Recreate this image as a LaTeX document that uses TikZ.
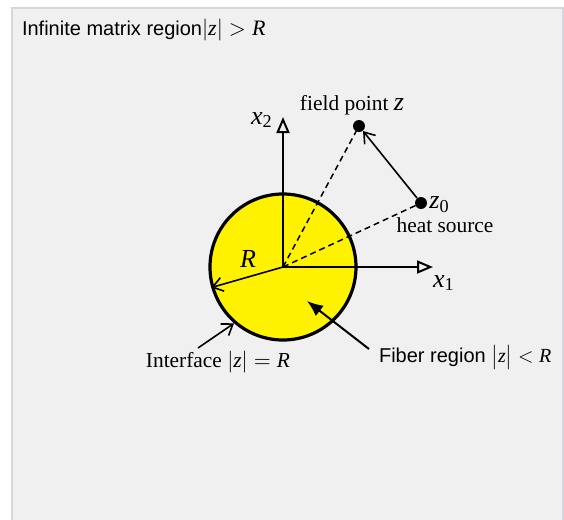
\documentclass[tikz,border=0pt]{standalone}
\usepackage{fontspec}
\setmainfont{Liberation Serif}
\setsansfont{Liberation Sans}
\usetikzlibrary{arrows.meta}
\definecolor{panel}{RGB}{240,240,240}
\definecolor{panelrand}{RGB}{214,214,220}
\newcommand\mi[1]{\mathit{#1}}
\newcommand\betrag[1]{\bigl|\mi{#1}\bigr|}
\newcommand\gross[1]{{\fontsize{13}{14}\selectfont$#1$}}

\begin{document}
\begin{tikzpicture}[x=0.5pt, y=-0.5pt,
  achse/.style={line width=1pt, -{Triangle[open, length=8pt, width=6.5pt]}},
  pfeil/.style={line width=0.8pt, -{Straight Barb[length=5pt, width=7pt]}},
  strich/.style={line width=0.75pt, dash pattern=on 3pt off 2pt},
  punkt/.style={circle, fill=black, inner sep=0pt, minimum size=6pt},
  serif/.style={font=\fontsize{10.7}{12}\selectfont},
  sans/.style={font=\sffamily\fontsize{10}{12}\selectfont}]
\useasboundingbox (0,0) rectangle (564,520);
\fill[white] (0,0) rectangle (564,520);
\draw[panelrand, fill=panel, line width=0.6pt] (12,8) rectangle (563,523);
% fibre and points
\coordinate (O) at (283,267);
\node[circle, draw, line width=1.6pt, fill=yellow, minimum size=73pt, inner sep=0pt] (faser) at (O) {};
\node[punkt] (fp) at (359,126) {};
\node[punkt] (hs) at (421,203) {};
\coordinate (x1end) at (433,267);
\coordinate (x2end) at (283,117);
\coordinate (ia) at (198,348);
\coordinate (fa) at (369,349);
\coordinate (fb) at (307,301);
% labels
\node[sans, anchor=west] (titel) at (15,30) {Infinite matrix region{\fontsize{11}{12}\selectfont$\betrag{z}>\mi{R}$}};
\node[serif] (fptext) at (352,105) {field point \gross{\mi{z}}};
\node[serif, anchor=west, inner sep=1pt] (z0text) at (427,205) {\gross{\mi{z}_{\mathrm{0}}}};
\node[serif] (hstext) at (445,225) {heat source};
\node[serif] (rtext) at (248,259) {\gross{\mi{R}}};
\node[serif] (x2text) at (262,120) {\gross{\mi{x}_{\mathrm{2}}}};
\node[serif] (x1text) at (444,283) {\gross{\mi{x}_{\mathrm{1}}}};
\node[serif] (intf) at (218,362) {Interface $\betrag{z} = \mi{R}$};
\node[sans, anchor=west] (fibtext) at (372,357) {Fiber region $\betrag{z} < \mi{R}$};
% connectors
\foreach \p in {fp, hs} \draw[strich] (O) -- (\p.center);
\draw[achse] (O) -- (x1end);
\draw[achse] (O) -- (x2end);
\draw[pfeil] (hs) -- (fp);
\draw[pfeil] (O) -- (faser.196.7);
\draw[pfeil] (ia) -- (faser.229.7);
\draw[line width=1pt, -{Latex[length=8pt, width=6.5pt]}] (fa) -- (fb);
\end{tikzpicture}
\end{document}
